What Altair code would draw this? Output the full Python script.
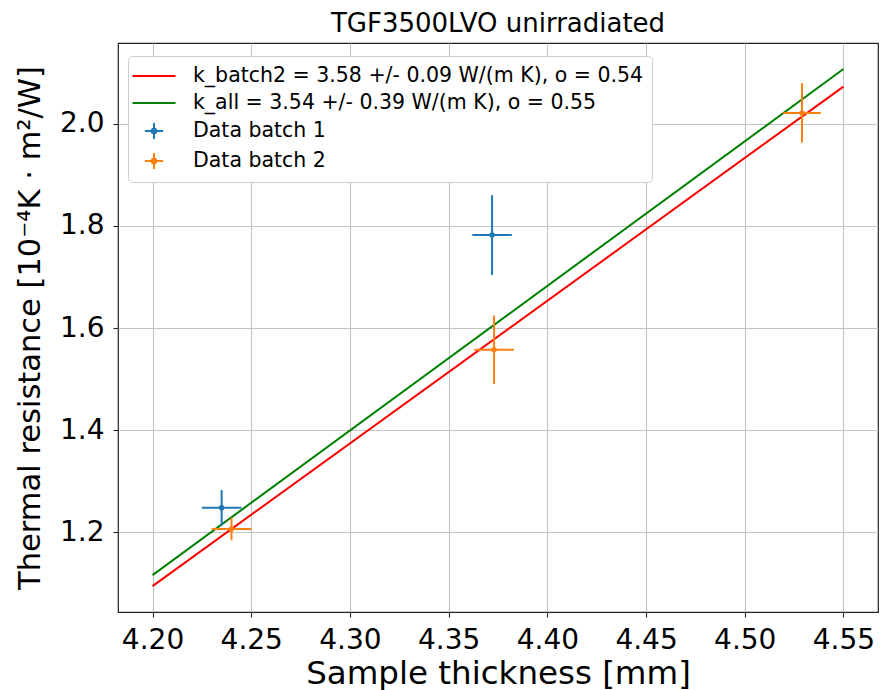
import altair as alt
import pandas as pd

# ---- data ----
fit_x = [4.20, 4.55]
k_batch2_y = [1.0947, 2.0725]
k_all_y = [1.1163, 2.107]

b1_x = [4.235, 4.372]
b1_y = [1.248, 1.782]
b1_xerr = [0.010, 0.010]
b1_yerr = [0.035, 0.078]

b2_x = [4.240, 4.373, 4.529]
b2_y = [1.2065, 1.5575, 2.021]
b2_xerr = [0.010, 0.010, 0.0095]
b2_yerr = [0.022, 0.067, 0.058]

S_RED = "k_batch2 = 3.58 +/- 0.09 W/(m K), o = 0.54"
S_GREEN = "k_all = 3.54 +/- 0.39 W/(m K), o = 0.55"
S_B1 = "Data batch 1"
S_B2 = "Data batch 2"
series_order = [S_RED, S_GREEN, S_B1, S_B2]
series_colors = ["#ff0000", "#008000", "#1f77b4", "#ff7f0e"]

x_ticks = [4.20, 4.25, 4.30, 4.35, 4.40, 4.45, 4.50, 4.55]
y_ticks = [1.2, 1.4, 1.6, 1.8, 2.0]

# ---- tables ----
lines = pd.DataFrame({
    "x": fit_x + fit_x,
    "y": k_batch2_y + k_all_y,
    "series": [S_RED] * 2 + [S_GREEN] * 2,
})
pts = pd.DataFrame({
    "x": b1_x + b2_x,
    "y": b1_y + b2_y,
    "xerr": b1_xerr + b2_xerr,
    "yerr": b1_yerr + b2_yerr,
    "series": [S_B1] * len(b1_x) + [S_B2] * len(b2_x),
})
pts["x_lo"] = pts["x"] - pts["xerr"]
pts["x_hi"] = pts["x"] + pts["xerr"]
pts["y_lo"] = pts["y"] - pts["yerr"]
pts["y_hi"] = pts["y"] + pts["yerr"]
legend_df = pd.concat([lines, pts[["x", "y", "series"]]], ignore_index=True)

FONT = "DejaVu Sans"
xscale = alt.Scale(domain=[4.1825, 4.5675], nice=False, zero=False)
yscale = alt.Scale(domain=[1.044, 2.158], nice=False, zero=False)
color_scale = alt.Scale(domain=series_order, range=series_colors)

line_path = "M-2,0H2"
plus_path = ("M-0.85,0H0.85M0,-0.75V0.75"
             "M0.22,0A0.22,0.22,0,1,1,-0.22,0A0.22,0.22,0,1,1,0.22,0")
shape_scale = alt.Scale(domain=series_order,
                        range=[line_path, line_path, plus_path, plus_path])

X = alt.X("x:Q", scale=xscale,
          axis=alt.Axis(values=x_ticks, format=".2f",
                        title="Sample thickness [mm]"))
Y = alt.Y("y:Q", scale=yscale,
          axis=alt.Axis(values=y_ticks, format=".1f",
                        title="Thermal resistance [10⁻⁴K · m²/W]"))
C = alt.Color("series:N", scale=color_scale, legend=None)

fit_layer = alt.Chart(lines).mark_line(strokeWidth=2).encode(
    x=X, y=Y, color=C, detail="series:N")

hbar = alt.Chart(pts).mark_rule(strokeWidth=2).encode(
    x="x_lo:Q", x2="x_hi:Q", y="y:Q", color=C)
vbar = alt.Chart(pts).mark_rule(strokeWidth=2).encode(
    x="x:Q", y="y_lo:Q", y2="y_hi:Q", color=C)
dots = alt.Chart(pts).mark_circle(size=30, opacity=1).encode(
    x="x:Q", y="y:Q", color=C)

legend = alt.Legend(
    title=None, orient="none", legendX=10, legendY=13,
    labelFont=FONT, labelFontSize=20.5, labelColor="#000000",
    symbolSize=462, symbolStrokeWidth=2, symbolOpacity=1,
    symbolFillColor="transparent", symbolOffset=6,
    labelOffset=27, rowPadding=4, padding=8,
    strokeColor="#cccccc", fillColor="#ffffff", cornerRadius=4,
    labelLimit=1000,
)
legend_layer = alt.Chart(legend_df).mark_point(opacity=0).encode(
    x="x:Q", y="y:Q",
    color=alt.Color("series:N", scale=color_scale, legend=legend,
                    sort=series_order),
    shape=alt.Shape("series:N", scale=shape_scale, legend=legend,
                    sort=series_order),
)

chart = alt.layer(fit_layer, hbar, vbar, dots, legend_layer).resolve_legend(
    color="independent", shape="independent"
).properties(
    width=760, height=569,
    title=alt.TitleParams("TGF3500LVO unirradiated", font=FONT,
                          fontSize=26, fontWeight="normal", color="#000000",
                          anchor="middle", offset=6),
    autosize=alt.AutoSizeParams(type="none"),
    padding={"left": 118, "top": 43, "right": 6, "bottom": 78},
).configure_view(
    stroke="#222222", strokeWidth=1.2
).configure_axis(
    domain=False, grid=True, gridColor="#c4c4c4", gridWidth=1.1,
    ticks=True, tickColor="#222222", tickSize=5, tickWidth=1.1,
    labelFont=FONT, labelFontSize=28, labelColor="#000000", labelPadding=9,
    titleFont=FONT, titleFontWeight="normal",
    titleColor="#000000",
).configure_axisX(titlePadding=3, titleFontSize=32.5).configure_axisY(
    titlePadding=14, titleFontSize=30.5)

chart.save("out.html", embed_options={"renderer": "svg", "actions": False})
